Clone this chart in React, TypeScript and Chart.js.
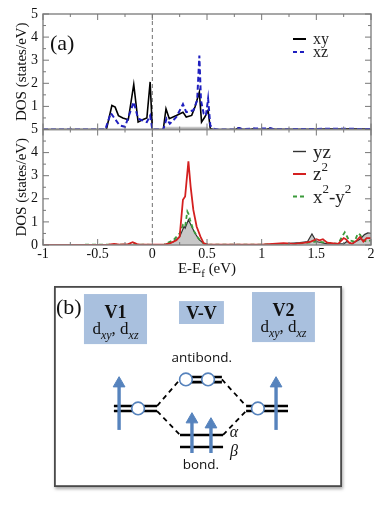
import React, { useEffect, useRef } from "react";
import { Chart, registerables } from "chart.js";

Chart.register(...registerables);

const SERIF = "'Liberation Serif', 'Times New Roman', Times, serif";
const SANS = "'Open Sans', 'Liberation Sans', Arial, sans-serif";
Chart.defaults.font.family = SERIF;

// ---------------- panel (a), upper: xy / xz ----------------
const xyE = [-1, -0.42, -0.37, -0.34, -0.31, -0.27, -0.22, -0.17, -0.13, -0.09, -0.05, -0.02, 0, 0.1, 0.125, 0.155, 0.22, 0.28, 0.31, 0.36, 0.39, 0.43, 0.45, 0.48, 0.51, 0.53, 0.56, 0.76, 0.79, 0.82, 0.9, 0.93, 0.96, 1.05, 1.08, 1.12, 1.5, 1.6, 1.7, 1.8, 2];
const xyDOS = [0, 0, 1.04, 0.97, 0.6, 0.5, 0.42, 1.95, 0.32, 0.42, 0.5, 2.06, 0, 0, 0.9, 0.47, 0.61, 0.75, 0.54, 0.61, 0.97, 1.62, 0.32, 0.54, 0.83, 0.04, 0, 0, 0.07, 0.02, 0.01, 0.04, 0.01, 0.02, 0.05, 0.01, 0.01, 0.03, 0.02, 0.03, 0.02];

const xzE = [-1, -0.43, -0.38, -0.3, -0.25, -0.17, -0.13, -0.05, -0.02, 0, 0.1, 0.13, 0.16, 0.22, 0.28, 0.31, 0.375, 0.41, 0.43, 0.445, 0.47, 0.49, 0.51, 0.53, 0.56, 0.6, 0.76, 0.79, 0.82, 0.93, 1.08, 1.12, 1.6, 1.8, 2];
const xzDOS = [0, 0, 0.71, 0.18, 0.12, 1.19, 0.47, 0.32, 0.6, 0, 0, 0.47, 0.25, 0.54, 1.1, 0.75, 0.83, 1.26, 3.2, 1.26, 0.68, 0.6, 1.33, 0.18, 0.03, 0, 0, 0.06, 0.02, 0.04, 0.05, 0.01, 0.03, 0.03, 0.02];

const topShadeE = [0.1, 0.12, 0.5, 0.53];
const topShadeDOS = [0, 0.12, 0.12, 0];

// ---------------- panel (a), lower: yz / z2 / x2-y2 ----------------
const yzE = [-1, 0.1, 0.19, 0.25, 0.29, 0.3, 0.33, 0.36, 0.39, 0.43, 0.47, 0.52, 1.0, 1.2, 1.35, 1.42, 1.46, 1.5, 1.6, 1.75, 1.78, 1.82, 1.9, 1.94, 1.97, 2];
const yzDOS = [0, 0, 0.13, 0.36, 0.8, 0.73, 1.09, 0.8, 0.51, 0.22, 0.07, 0.01, 0.01, 0.05, 0.1, 0.15, 0.48, 0.15, 0.05, 0.05, 0.15, 0.05, 0.25, 0.45, 0.52, 0.5];

const z2E = [-1, -0.4, -0.35, -0.3, -0.22, -0.18, -0.14, -0.1, 0.1, 0.16, 0.22, 0.25, 0.28, 0.3, 0.33, 0.35, 0.375, 0.405, 0.44, 0.47, 0.52, 1.0, 1.1, 1.2, 1.3, 1.4, 1.45, 1.5, 1.53, 1.56, 1.6, 1.7, 1.75, 1.77, 1.8, 1.83, 1.87, 1.9, 1.93, 1.96, 2];
const z2DOS = [0, 0.02, 0.05, 0.02, 0.04, 0.12, 0.04, 0.01, 0.01, 0.07, 0.2, 0.36, 1.96, 2.1, 3.62, 2.54, 1.52, 0.8, 0.36, 0.07, 0.01, 0.02, 0.05, 0.08, 0.05, 0.1, 0.15, 0.25, 0.2, 0.25, 0.1, 0.05, 0.3, 0.25, 0.1, 0.05, 0.2, 0.35, 0.15, 0.3, 0.3];

const x2y2E = [-1, -0.22, -0.18, -0.14, 0.1, 0.19, 0.25, 0.28, 0.3, 0.32, 0.335, 0.345, 0.375, 0.42, 0.47, 0.52, 1.0, 1.3, 1.5, 1.6, 1.7, 1.74, 1.76, 1.8, 1.85, 1.88, 1.9, 1.93, 1.96, 2];
const x2y2DOS = [0, 0.02, 0.1, 0.02, 0, 0.2, 0.5, 0.87, 0.8, 1.45, 1.3, 1.09, 0.65, 0.29, 0.07, 0.01, 0.02, 0.03, 0.15, 0.1, 0.05, 0.4, 0.55, 0.2, 0.15, 0.5, 0.45, 0.2, 0.15, 0.2];

const topLegend = ["xy", "xz"];
const bottomLegend = ["yz", "z^2", "x^2-y^2"];
const xTitle = "E-E_f (eV)";
const yTitle = "DOS (states/eV)";
const xMinorTicks = [-1, -0.75, -0.5, -0.25, 0, 0.25, 0.5, 0.75, 1, 1.25, 1.5, 1.75, 2];
const yMinorTicks = [0, 0.5, 1, 1.5, 2, 2.5, 3, 3.5, 4, 4.5, 5];

// ---------------- panel (b): schematic (units 0..100) ----------------
const boxLabels = ["V1", "V-V", "V2"];
const boxOrbitals = ["d_xy, d_xz", "", "d_xy, d_xz"];
const boxX1 = [10.4, 43.4, 68.75];
const boxX2 = [32.3, 59.0, 90.6];
const boxY1 = [71.1, 81.1, 72.1];
const boxY2 = [96.0, 92.5, 97.0];

const levelStart = [20.8, 20.8, 43.75, 43.75, 66.7, 66.7, 43.75, 43.75];
const levelEnd = [35.8, 35.8, 58.3, 58.3, 81.25, 81.25, 58.7, 58.7];
const levelE = [40.3, 37.8, 54.7, 52.2, 40.3, 37.8, 25.9, 19.9];

const linkX1 = [35.8, 35.8, 58.3, 58.7];
const linkY1 = [40.3, 37.8, 53.5, 25.9];
const linkX2 = [43.75, 43.75, 66.7, 66.7];
const linkY2 = [53.5, 25.9, 40.3, 37.8];

const holeX = [45.8, 53.5, 29.2, 70.8];
const holeY = [53.5, 53.5, 39.1, 39.1];

const spinX = [22.6, 77.1, 47.9, 54.5];
const spinFrom = [28.4, 28.4, 16.9, 16.9];
const spinTo = [51.5, 51.5, 33.6, 31.1];

const noteText = ["antibond.", "bond.", "\u03b1", "\u03b2"];
const noteX = [51.3, 51.0, 62.5, 62.5];
const noteY = [64.2, 10.9, 26.9, 17.4];

const BLUE = "#5683bd";

type Part = { t: string; k: "n" | "sub" | "sup" };
function richParts(s: string): Part[] {
  const out: Part[] = [];
  const re = /([_^])([a-z0-9]+)/g;
  let last = 0;
  let m: RegExpExecArray | null;
  while ((m = re.exec(s))) {
    if (m.index > last) out.push({ t: s.slice(last, m.index), k: "n" });
    out.push({ t: m[2], k: m[1] === "_" ? "sub" : "sup" });
    last = re.lastIndex;
  }
  if (last < s.length) out.push({ t: s.slice(last), k: "n" });
  return out;
}

function drawRich(ctx: CanvasRenderingContext2D, s: string, x: number, y: number, align: string, size: number, family: string, italicScript: boolean, bold = false) {
  const parts = richParts(s);
  const small = Math.round(size * 0.7);
  const fontFor = (k: string) =>
    k === "n" ? `${bold ? "bold " : ""}${size}px ${family}` : `${italicScript ? "italic " : ""}${small}px ${family}`;
  let w = 0;
  const ws = parts.map((p) => {
    ctx.font = fontFor(p.k);
    const mw = ctx.measureText(p.t).width;
    w += mw;
    return mw;
  });
  let cx = align === "center" ? x - w / 2 : align === "right" ? x - w : x;
  ctx.textAlign = "left";
  ctx.textBaseline = "alphabetic";
  parts.forEach((p, i) => {
    ctx.font = fontFor(p.k);
    const dy = p.k === "sub" ? size * 0.28 : p.k === "sup" ? -size * 0.5 : 0;
    ctx.fillText(p.t, cx, y + dy);
    cx += ws[i];
  });
}

const pts = (e: number[], v: number[]) => e.map((x, i) => ({ x, y: v[i] }));

const dosDecor = {
  id: "dosDecor",
  beforeDatasetsDraw(chart: any) {
    const { ctx, chartArea: ca, scales } = chart;
    const x0 = scales.x.getPixelForValue(0);
    ctx.save();
    ctx.strokeStyle = "#707070";
    ctx.lineWidth = 1;
    ctx.setLineDash([4, 3]);
    ctx.beginPath();
    ctx.moveTo(x0, ca.top);
    ctx.lineTo(x0, ca.bottom);
    ctx.stroke();
    ctx.restore();
  },
  afterDatasetsDraw(chart: any) {
    const { ctx, chartArea: ca, scales } = chart;
    const xs = scales.x;
    ctx.save();
    for (const s of [scales.yTop, scales.yBot]) {
      ctx.strokeStyle = "#8a8a8a";
      ctx.lineWidth = 1.5;
      ctx.strokeRect(ca.left, s.top, ca.right - ca.left, s.bottom - s.top);
      ctx.lineWidth = 1;
      ctx.strokeStyle = "#777";
      ctx.beginPath();
      yMinorTicks.forEach((v) => {
        const py = s.getPixelForValue(v);
        const len = Number.isInteger(v) ? 6 : 3;
        ctx.moveTo(ca.left, py);
        ctx.lineTo(ca.left + len, py);
        ctx.moveTo(ca.right, py);
        ctx.lineTo(ca.right - len, py);
      });
      xMinorTicks.forEach((v) => {
        const px = xs.getPixelForValue(v);
        const len = Math.abs(v * 2 - Math.round(v * 2)) < 1e-6 ? 6 : 3;
        ctx.moveTo(px, s.bottom);
        ctx.lineTo(px, s.bottom - len);
        ctx.moveTo(px, s.top);
        ctx.lineTo(px, s.top + len);
      });
      ctx.stroke();
    }

    // legends
    const lx1 = ca.right - 78, lx2 = ca.right - 65, tx = ca.right - 58;
    const topStyles = [
      { c: "#000", d: [] as number[], w: 2 },
      { c: "#1f1fbf", d: [4, 3], w: 2 },
    ];
    topLegend.forEach((lab, i) => {
      const y = scales.yTop.top + 25 + i * 13;
      const st = topStyles[i];
      ctx.strokeStyle = st.c;
      ctx.lineWidth = st.w;
      ctx.setLineDash(st.d);
      ctx.beginPath();
      ctx.moveTo(lx1, y);
      ctx.lineTo(lx2, y);
      ctx.stroke();
      ctx.setLineDash([]);
      ctx.fillStyle = "#222";
      drawRich(ctx, lab, tx, y + 5, "left", 16, SERIF, false);
    });
    const botStyles = [
      { c: "#333", d: [] as number[], w: 1.4 },
      { c: "#d42020", d: [] as number[], w: 2 },
      { c: "#3a9a3a", d: [4, 3], w: 2 },
    ];
    bottomLegend.forEach((lab, i) => {
      const y = scales.yBot.top + 22 + i * 22.5;
      const st = botStyles[i];
      ctx.strokeStyle = st.c;
      ctx.lineWidth = st.w;
      ctx.setLineDash(st.d);
      ctx.beginPath();
      ctx.moveTo(lx1, y);
      ctx.lineTo(lx2, y);
      ctx.stroke();
      ctx.setLineDash([]);
      ctx.fillStyle = "#222";
      drawRich(ctx, lab, tx, y + 6, "left", 19, SERIF, false);
    });

    // panel label and x title
    ctx.fillStyle = "#111";
    ctx.font = `22px ${SERIF}`;
    ctx.textAlign = "left";
    ctx.textBaseline = "middle";
    ctx.fillText("(a)", ca.left + 7, ca.top + 30);
    drawRich(ctx, xTitle, (ca.left + ca.right) / 2, ca.bottom + 28, "center", 15, SERIF, false);
    ctx.restore();
  },
};

const diagDecor = {
  id: "diagDecor",
  beforeDatasetsDraw(chart: any) {
    const { ctx, scales } = chart;
    const { x, y } = scales;
    ctx.save();
    ctx.fillStyle = "#a9c0de";
    boxLabels.forEach((_, i) => {
      const px1 = x.getPixelForValue(boxX1[i]);
      const px2 = x.getPixelForValue(boxX2[i]);
      const py1 = y.getPixelForValue(boxY2[i]);
      const py2 = y.getPixelForValue(boxY1[i]);
      ctx.fillRect(px1, py1, px2 - px1, py2 - py1);
    });
    ctx.restore();
  },
  afterDatasetsDraw(chart: any) {
    const { ctx, scales, width, height } = chart;
    const { x, y } = scales;
    ctx.save();
    ctx.fillStyle = "#111";
    boxLabels.forEach((lab, i) => {
      const cx = (x.getPixelForValue(boxX1[i]) + x.getPixelForValue(boxX2[i])) / 2;
      const top = y.getPixelForValue(boxY2[i]);
      const bot = y.getPixelForValue(boxY1[i]);
      if (boxOrbitals[i]) {
        drawRich(ctx, lab, cx, top + 24, "center", 18, SERIF, false, true);
        drawRich(ctx, boxOrbitals[i], cx, bot - 10, "center", 17, SERIF, true);
      } else {
        drawRich(ctx, lab, cx, (top + bot) / 2 + 6, "center", 18, SERIF, false, true);
      }
    });
    noteText.forEach((t, i) => {
      const px = x.getPixelForValue(noteX[i]);
      const py = y.getPixelForValue(noteY[i]);
      ctx.textAlign = "center";
      ctx.textBaseline = "middle";
      if (i < 2) ctx.font = `13.5px ${SANS}`;
      else ctx.font = `italic 16px ${SERIF}`;
      ctx.fillText(t, px, py);
    });
    ctx.font = `22px ${SERIF}`;
    ctx.textAlign = "left";
    ctx.textBaseline = "middle";
    ctx.fillText("(b)", 2, 22);
    ctx.strokeStyle = "#4a4a4a";
    ctx.lineWidth = 1.8;
    ctx.strokeRect(0.9, 0.9, width - 1.8, height - 1.8);
    ctx.restore();
  },
};

function dosConfig(): any {
  const yScale = (hideZero: boolean) => ({
    type: "linear",
    position: "left",
    stack: "dos",
    stackWeight: 1,
    min: 0,
    max: 5,
    ticks: {
      stepSize: 1,
      autoSkip: false,
      color: "#111",
      font: { family: SERIF, size: 14 },
      padding: 5,
      callback: (v: number) => (hideZero && v === 0 ? "" : String(v)),
    },
    grid: { display: false, drawTicks: false },
    border: { display: false },
    title: {
      display: true,
      text: yTitle,
      color: "#111",
      font: { family: SERIF, size: 15 },
      padding: { top: 13, bottom: 0 },
    },
    afterFit: (s: any) => {
      s.width = 43;
    },
  });
  const line = (label: string, e: number[], v: number[], axis: string, color: string, width: number, dash: number[], order: number, extra: any = {}) => ({
    label,
    data: pts(e, v),
    yAxisID: axis,
    borderColor: color,
    borderWidth: width,
    borderDash: dash,
    pointRadius: 0,
    tension: 0,
    fill: false,
    order,
    ...extra,
  });
  return {
    type: "line",
    data: {
      datasets: [
        line("shade", topShadeE, topShadeDOS, "yTop", "rgba(0,0,0,0)", 0, [], 3, { fill: "origin", backgroundColor: "rgba(185,185,185,0.8)" }),
        line("xy", xyE, xyDOS, "yTop", "#000", 1.6, [], 1),
        line("xz", xzE, xzDOS, "yTop", "#1f1fbf", 2, [5, 3], 0),
        line("yz", yzE, yzDOS, "yBot", "#333", 1.2, [], 2, { fill: "origin", backgroundColor: "rgba(190,190,190,0.85)" }),
        line("x2-y2", x2y2E, x2y2DOS, "yBot", "#3a9a3a", 1.8, [4, 3], 1),
        line("z2", z2E, z2DOS, "yBot", "#d42020", 1.8, [], 0),
      ],
    },
    options: {
      animation: false,
      responsive: false,
      maintainAspectRatio: false,
      events: [],
      layout: { autoPadding: false, padding: { top: 14, right: 16, left: 0, bottom: 0 } },
      plugins: { legend: { display: false }, tooltip: { enabled: false } },
      scales: {
        x: {
          type: "linear",
          min: -1,
          max: 2,
          ticks: {
            stepSize: 0.5,
            color: "#111",
            font: { family: SERIF, size: 14 },
            padding: 1,
            maxRotation: 0,
            autoSkip: false,
            callback: (v: number) => String(v),
          },
          grid: { display: false, drawTicks: false },
          border: { display: false },
          afterFit: (s: any) => {
            s.height = 35;
          },
        },
        yBot: yScale(false),
        yTop: yScale(true),
      },
    },
    plugins: [dosDecor],
  };
}

function diagConfig(): any {
  const levels = levelE.map((e, i) => ({
    data: [
      { x: levelStart[i], y: e },
      { x: levelEnd[i], y: e },
    ],
    showLine: true,
    borderColor: "#000",
    borderWidth: 2.6,
    pointRadius: 0,
    order: 3,
  }));
  const links = linkX1.map((x1, i) => ({
    data: [
      { x: x1, y: linkY1[i] },
      { x: linkX2[i], y: linkY2[i] },
    ],
    showLine: true,
    borderColor: "#000",
    borderWidth: 1.8,
    borderDash: [5, 4],
    pointRadius: 0,
    order: 4,
  }));
  const spins = spinX.map((x, i) => ({
    data: [
      { x, y: spinFrom[i] },
      { x, y: spinTo[i] },
    ],
    showLine: true,
    borderColor: BLUE,
    borderWidth: 3.4,
    pointRadius: [0, 6.8],
    pointStyle: "triangle",
    pointBackgroundColor: BLUE,
    pointBorderColor: BLUE,
    pointBorderWidth: 1,
    order: 1,
  }));
  const holes = {
    data: holeX.map((x, i) => ({ x, y: holeY[i] })),
    showLine: false,
    pointRadius: 6.3,
    pointStyle: "circle",
    pointBackgroundColor: "#fff",
    pointBorderColor: BLUE,
    pointBorderWidth: 1.6,
    order: 0,
  };
  return {
    type: "scatter",
    data: { datasets: [holes, ...spins, ...levels, ...links] },
    options: {
      animation: false,
      responsive: false,
      maintainAspectRatio: false,
      events: [],
      layout: { autoPadding: false, padding: 0 },
      plugins: { legend: { display: false }, tooltip: { enabled: false } },
      scales: {
        x: { type: "linear", min: 0, max: 100, display: false },
        y: { type: "linear", min: 0, max: 100, display: false },
      },
    },
    plugins: [diagDecor],
  };
}

export default function App() {
  const dosRef = useRef<HTMLCanvasElement>(null);
  const diagRef = useRef<HTMLCanvasElement>(null);
  useEffect(() => {
    const c1 = new Chart(dosRef.current as HTMLCanvasElement, dosConfig());
    const c2 = new Chart(diagRef.current as HTMLCanvasElement, diagConfig());
    return () => {
      c1.destroy();
      c2.destroy();
    };
  }, []);
  return (
    <div style={{ position: "absolute", left: 0, top: 0, width: 387, height: 509, background: "#fff" }}>
      <canvas
        ref={dosRef}
        width={387}
        height={280}
        style={{ position: "absolute", left: 0, top: 0, width: 387, height: 280 }}
      />
      <canvas
        ref={diagRef}
        width={288}
        height={201}
        style={{ position: "absolute", left: 54, top: 286, width: 288, height: 201, boxShadow: "1px 2px 3px rgba(0,0,0,0.35)" }}
      />
    </div>
  );
}
